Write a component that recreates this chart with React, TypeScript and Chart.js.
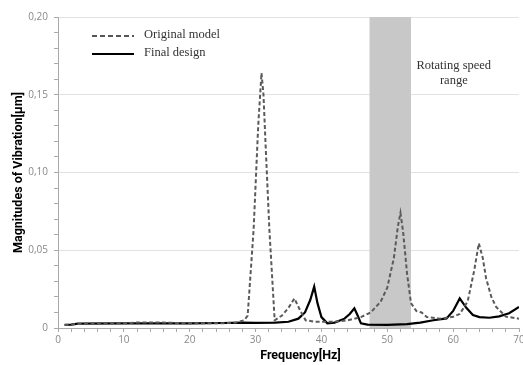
import React, { useEffect, useRef } from "react";
import { Chart, registerables } from "chart.js";

Chart.register(...registerables);

// Frequency [Hz] and magnitude [µm] for each series
const originalFreq = [1, 3, 5, 10, 12, 16, 20, 25, 27, 28.3, 28.8, 29.7, 30.4, 30.9, 31.2, 31.5, 32.1, 32.9, 34, 35, 35.9, 36.8, 37.6, 39, 42, 44, 46, 47.5, 49, 50, 51, 51.6, 52, 52.4, 53, 53.6, 54.4, 55.2, 56, 58, 60, 61, 62.2, 63.2, 63.9, 64.5, 65, 65.8, 66.5, 68, 70];
const originalAmp = [0.002, 0.0025, 0.003, 0.003, 0.0035, 0.0035, 0.003, 0.003, 0.0035, 0.005, 0.008, 0.063, 0.13, 0.164, 0.15, 0.12, 0.063, 0.005, 0.008, 0.013, 0.019, 0.011, 0.005, 0.004, 0.004, 0.005, 0.007, 0.01, 0.017, 0.026, 0.045, 0.065, 0.074, 0.062, 0.035, 0.016, 0.011, 0.01, 0.007, 0.006, 0.0072, 0.009, 0.017, 0.037, 0.0545, 0.045, 0.032, 0.02, 0.0137, 0.0073, 0.006];

const finalFreq = [1, 2, 3, 10, 20, 25, 28, 30, 33, 35, 36.5, 37.5, 38.3, 38.9, 39.4, 40, 40.9, 42, 43.5, 44.3, 45, 45.5, 46, 47, 50, 53, 55, 57, 59, 60, 61, 62, 63, 64, 65.5, 67, 68.5, 70];
const finalAmp = [0.002, 0.0022, 0.0028, 0.003, 0.003, 0.0032, 0.0035, 0.0033, 0.0035, 0.004, 0.006, 0.01, 0.018, 0.0266, 0.016, 0.007, 0.003, 0.0035, 0.006, 0.009, 0.0127, 0.008, 0.003, 0.0022, 0.002, 0.0025, 0.0035, 0.005, 0.0062, 0.011, 0.019, 0.013, 0.0084, 0.007, 0.0066, 0.0075, 0.0095, 0.0135];

const speedRange = [47.3, 53.6];
const seriesLabels = ["Original model", "Final design"];
const bandLabel = ["Rotating speed", "range"];
const xTitle = "Frequency[Hz]";
const yTitle = "Magnitudes of Vibration[μm]";

const isMultiple = (v: number, step: number) => Math.abs(v / step - Math.round(v / step)) < 1e-6;

export default function App() {
  const ref = useRef<HTMLCanvasElement | null>(null);

  useEffect(() => {
    if (!ref.current) return;

    const bandPlugin = {
      id: "band",
      beforeDatasetsDraw(chart: any) {
        const { ctx, chartArea, scales } = chart;
        const x1 = scales.x.getPixelForValue(speedRange[0]);
        const x2 = scales.x.getPixelForValue(speedRange[1]);
        ctx.save();
        ctx.fillStyle = "#c8c8c8";
        ctx.fillRect(x1, chartArea.top, x2 - x1, chartArea.bottom - chartArea.top);
        ctx.restore();
      },
      afterDraw(chart: any) {
        const { ctx, chartArea, scales } = chart;
        ctx.save();
        // legend
        const lx = chartArea.left + 34;
        const ly = chartArea.top + 19;
        ctx.font = "12.5px 'Liberation Serif', serif";
        ctx.textBaseline = "middle";
        ctx.textAlign = "left";
        ctx.lineWidth = 2;
        ctx.strokeStyle = "#555";
        ctx.setLineDash([5, 3]);
        ctx.beginPath();
        ctx.moveTo(lx, ly);
        ctx.lineTo(lx + 42, ly);
        ctx.stroke();
        ctx.setLineDash([]);
        ctx.strokeStyle = "#000";
        ctx.beginPath();
        ctx.moveTo(lx, ly + 18);
        ctx.lineTo(lx + 42, ly + 18);
        ctx.stroke();
        ctx.fillStyle = "#333";
        ctx.fillText(seriesLabels[0], lx + 52, ly - 1);
        ctx.fillText(seriesLabels[1], lx + 52, ly + 17);
        // band label
        const cx = scales.x.getPixelForValue(60.1);
        ctx.textAlign = "center";
        ctx.fillText(bandLabel[0], cx, chartArea.top + 49);
        ctx.fillText(bandLabel[1], cx, chartArea.top + 64);
        // x axis title
        ctx.font = "bold 12.5px Roboto, sans-serif";
        ctx.fillStyle = "#000";
        ctx.fillText(xTitle, (chartArea.left + chartArea.right) / 2 + 12, 356);
        ctx.restore();
      },
    };

    const chart = new Chart(ref.current, {
      type: "line",
      data: {
        datasets: [
          {
            label: seriesLabels[0],
            data: originalFreq.map((f, i) => ({ x: f, y: originalAmp[i] })),
            borderColor: "#5a5a5a",
            borderWidth: 2,
            borderDash: [4, 2.5],
            pointRadius: 0,
            tension: 0,
            fill: false,
          },
          {
            label: seriesLabels[1],
            data: finalFreq.map((f, i) => ({ x: f, y: finalAmp[i] })),
            borderColor: "#000",
            borderWidth: 2.2,
            pointRadius: 0,
            tension: 0,
            fill: false,
          },
        ],
      },
      options: {
        animation: false,
        responsive: true,
        maintainAspectRatio: false,
        layout: { padding: { top: 17, right: 4, left: 0, bottom: 0 } },
        plugins: {
          legend: { display: false },
          tooltip: { enabled: false },
        },
        scales: {
          x: {
            type: "linear",
            min: 0,
            max: 70,
            afterFit: (s: any) => {
              s.height = 37;
              s.paddingRight = 0;
              s.paddingLeft = 0;
            },
            border: { color: "#aaa", width: 1 },
            grid: {
              drawOnChartArea: false,
              tickLength: 4,
              tickColor: "#aaa",
            },
            ticks: {
              stepSize: 2,
              autoSkip: false,
              maxRotation: 0,
              padding: 2,
              color: "#888",
              font: { family: "'Open Sans', sans-serif", size: 10 },
              callback: (v: any) => (isMultiple(Number(v), 10) ? String(v) : ""),
            },
            title: { display: false },
          },
          y: {
            min: 0,
            max: 0.2,
            afterFit: (s: any) => {
              s.width = 58;
            },
            border: { color: "#aaa", width: 1 },
            grid: {
              color: (c: any) => (c.tick && isMultiple(c.tick.value, 0.05) && c.tick.value > 0 ? "#e2e2e2" : "rgba(0,0,0,0)"),
              tickColor: "#aaa",
              tickLength: 4,
            },
            ticks: {
              stepSize: 0.01,
              autoSkip: false,
              padding: 6,
              color: "#888",
              font: { family: "'Open Sans', sans-serif", size: 10 },
              callback: (v: any) => {
                const n = Number(v);
                if (!isMultiple(n, 0.05)) return "";
                if (Math.abs(n) < 1e-9) return "0";
                return n.toFixed(2).replace(".", ",");
              },
            },
            title: {
              display: true,
              text: yTitle,
              color: "#000",
              font: { family: "Roboto, sans-serif", size: 12.5, weight: "bold" },
              padding: { top: 11, bottom: 0 },
            },
          },
        },
      },
      plugins: [bandPlugin],
    } as any);

    return () => chart.destroy();
  }, []);

  return (
    <div style={{ position: "fixed", left: 0, top: 0, width: 523, height: 365, background: "#fff" }}>
      <canvas ref={ref} />
    </div>
  );
}
